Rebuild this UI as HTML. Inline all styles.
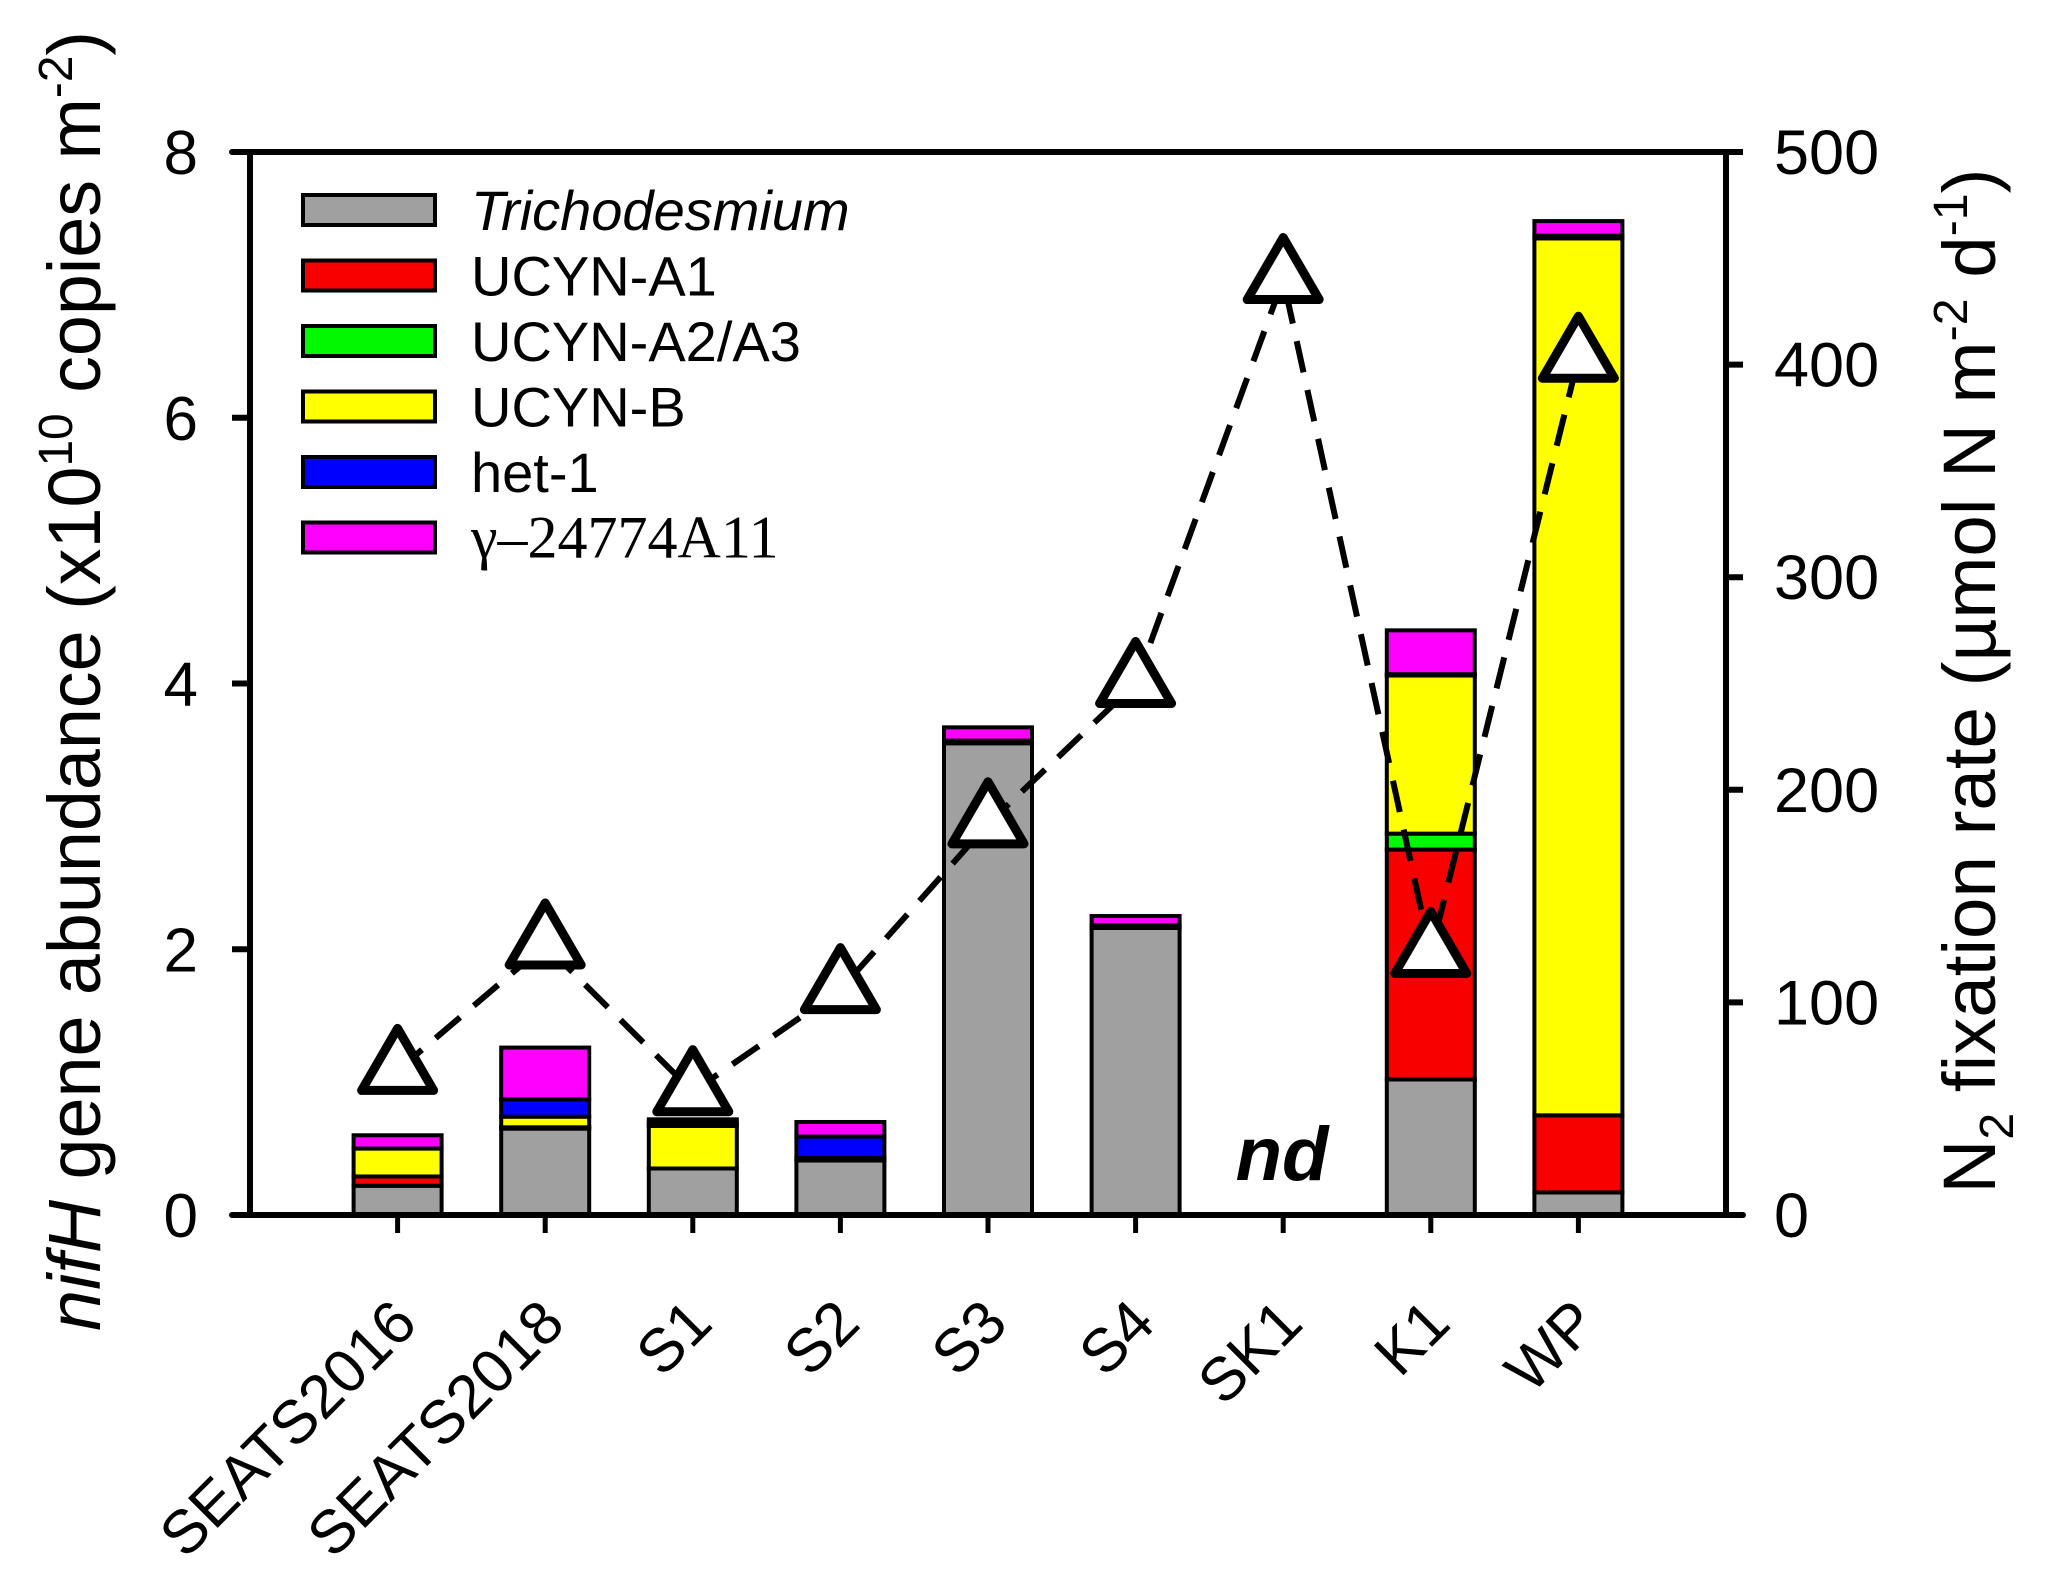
<!DOCTYPE html>
<html><head><meta charset="utf-8"><style>
html,body{margin:0;padding:0;background:#fff;}
svg{display:block;font-family:"Liberation Sans",Arial,sans-serif;}
</style></head><body>
<svg id="chart" width="2055" height="1583" viewBox="0 0 2055 1583" xmlns="http://www.w3.org/2000/svg">
<g id="bars"></g>
<g id="line"></g>
<g id="axes"></g>
<g id="legend"></g>
<text transform="translate(100,681) rotate(-90)" text-anchor="middle" font-size="74" textLength="1300" lengthAdjust="spacingAndGlyphs"><tspan font-style="italic">nifH</tspan> gene abundance (x10<tspan dy="-28" font-size="48">10</tspan><tspan dy="28"> copies m</tspan><tspan dy="-28" font-size="48">-2</tspan><tspan dy="28">)</tspan></text>
<text transform="translate(1995,681) rotate(-90)" text-anchor="middle" font-size="74" textLength="1025" lengthAdjust="spacingAndGlyphs">N<tspan dy="18" font-size="48">2</tspan><tspan dy="-18"> fixation rate (µmol N m</tspan><tspan dy="-28" font-size="48">-2</tspan><tspan dy="28"> d</tspan><tspan dy="-28" font-size="48">-1</tspan><tspan dy="28">)</tspan></text>
<text x="1282" y="1180" text-anchor="middle" font-size="76" font-weight="bold" font-style="italic">nd</text>
</svg>
<script>
const categories = ["SEATS2016","SEATS2018","S1","S2","S3","S4","SK1","K1","WP"];
const seriesNames = ["Trichodesmium","UCYN-A1","UCYN-A2/A3","UCYN-B","het-1","γ–24774A11"];
const seriesColors = ["#a0a0a0","#f80000","#00f800","#ffff00","#0000ff","#ff00ff"];
const trichodesmium = [0.22,0.65,0.35,0.41,3.55,2.16,0,1.02,0.17];
const ucynA1 = [0.07,0.01,0.0,0.0,0.0,0.0,0,1.73,0.58];
const ucynA23 = [0.0,0.0,0.0,0.0,0.0,0.0,0,0.12,0.0];
const ucynB = [0.21,0.08,0.32,0.02,0.0,0.0,0,1.19,6.6];
const het1 = [0.0,0.13,0.02,0.16,0.02,0.02,0,0.01,0.02];
const gamma = [0.10,0.39,0.03,0.11,0.10,0.07,0,0.33,0.11];
const n2fix = [68,127,58,106,184,250,440,123,403];
const yTicks = [0,2,4,6,8];
const y2Ticks = [0,100,200,300,400,500];

const NS="http://www.w3.org/2000/svg";
const L=250,R=1726,T=152,B=1215;
const band=(R-L)/(categories.length+1);
const xC=i=>L+band*(i+1);
const yS=v=>B-(v/8)*(B-T);
const y2S=v=>B-(v/500)*(B-T);
function mk(tag,attrs,parent){const e=document.createElementNS(NS,tag);for(const k in attrs)e.setAttribute(k,attrs[k]);parent.appendChild(e);return e;}

const bars=document.getElementById('bars');
const series=[trichodesmium,ucynA1,ucynA23,ucynB,het1,gamma];
categories.forEach((c,i)=>{
  let acc=0;
  series.forEach((s,k)=>{
    const v=s[i]; if(v<=0)return;
    const r=mk('rect',{x:xC(i)-44,y:yS(acc+v),width:88,height:yS(acc)-yS(acc+v),fill:seriesColors[k],stroke:'#000','stroke-width':4},bars);
    
    
    acc+=v;
  });
});

const line=document.getElementById('line');
const pts=n2fix.map((v,i)=>[xC(i),y2S(v)]);
const pl=mk('polyline',{points:pts.map(p=>p.join(',')).join(' '),fill:'none',stroke:'#000','stroke-width':6,'stroke-dasharray':'32 18'},line);


pts.forEach((p,i)=>{
  const [x,y]=p;
  const t=mk('polygon',{points:`${x},${y-42} ${x-36},${y+20} ${x+36},${y+20}`,fill:'#fff',stroke:'#000','stroke-width':9,'stroke-linejoin':'round'},line);
  
  
});

const ax=document.getElementById('axes');
mk('path',{d:`M${L-18},${T}H${R}M${L},${T}V${B}M${L-18},${B}H${R+17}M${R},${T}V${B}`,stroke:'#000','stroke-width':6,fill:'none','stroke-linecap':'round'},ax);
yTicks.forEach(v=>{
  mk('line',{x1:L-18,x2:L,y1:yS(v),y2:yS(v),stroke:'#000','stroke-width':6},ax);
  const t=mk('text',{x:198,y:yS(v)+22,'text-anchor':'end','font-size':62},ax);
  t.textContent=v;
  
  
});
y2Ticks.forEach(v=>{
  mk('line',{x1:R,x2:R+17,y1:y2S(v),y2:y2S(v),stroke:'#000','stroke-width':6},ax);
  const t=mk('text',{x:1774,y:y2S(v)+22,'font-size':63},ax);
  t.textContent=v;
  
  
});
categories.forEach((c,i)=>{
  mk('line',{x1:xC(i),x2:xC(i),y1:B,y2:B+18,stroke:'#000','stroke-width':5},ax);
  const x=xC(i)+22,y=1326;
  const t=mk('text',{x:x,y:y,'text-anchor':'end','font-size':61,transform:`rotate(-45 ${x} ${y})`},ax);
  t.textContent=c;
  
  
});

const lg=document.getElementById('legend');
seriesNames.forEach((n,k)=>{
  const cy=210+k*65.5;
  const r=mk('rect',{x:303,y:cy-15,width:132,height:30,fill:seriesColors[k],stroke:'#000','stroke-width':4},lg);
  
  
  const attrs={x:471,y:cy+20,'font-size':56};
  if(k===0)attrs['font-style']='italic';
  if(k===5){attrs['font-family']='"Liberation Serif",serif';attrs['font-size']=60;}
  const t=mk('text',attrs,lg);
  t.textContent=n;
  
  
});
</script>
</body></html>
